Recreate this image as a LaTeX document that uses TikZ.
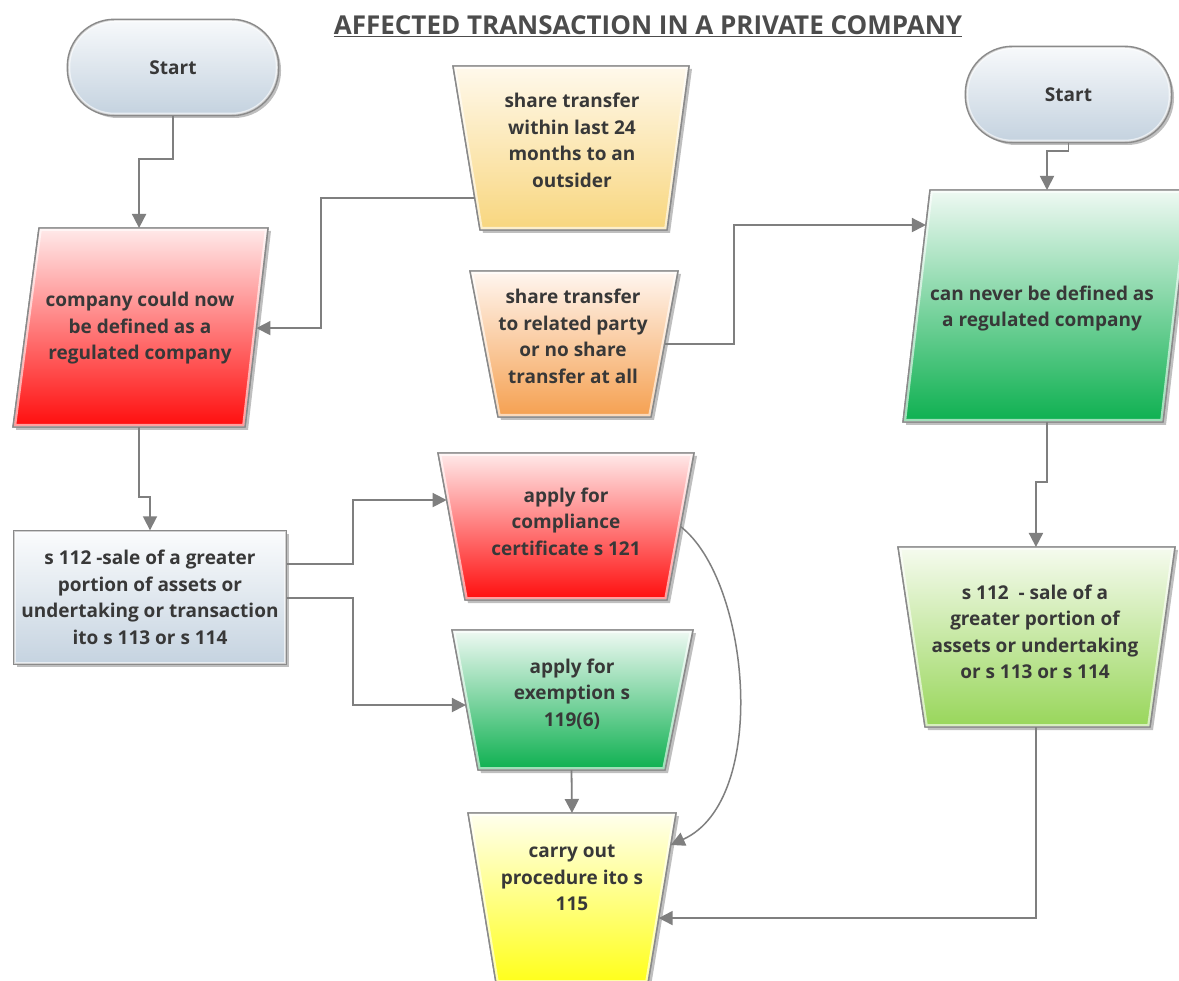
\documentclass[tikz,border=0pt]{standalone}
\usepackage{fontspec}
\setmainfont{Open Sans}
\usetikzlibrary{calc,shadows,arrows.meta}
\definecolor{linegray}{HTML}{7F7F7F}
\definecolor{bordergray}{HTML}{8A8A8A}
\definecolor{textgray}{HTML}{383838}
\definecolor{startTop}{HTML}{F7F9FB}
\definecolor{startBot}{HTML}{C4D2DF}
\definecolor{redTop}{HTML}{FFEAEA}
\definecolor{redBot}{HTML}{FF0D0D}
\definecolor{amberTop}{HTML}{FFF9EC}
\definecolor{amberBot}{HTML}{F8D67E}
\definecolor{orangeTop}{HTML}{FFF6F0}
\definecolor{orangeBot}{HTML}{F5A050}
\definecolor{greenTop}{HTML}{EFF9F3}
\definecolor{greenBot}{HTML}{0DB050}
\definecolor{lgreenTop}{HTML}{F6FBEF}
\definecolor{lgreenBot}{HTML}{98D65A}
\definecolor{boxTop}{HTML}{FBFCFD}
\definecolor{boxBot}{HTML}{C5D3E0}
\definecolor{yellowTop}{HTML}{FFFFEE}
\definecolor{yellowBot}{HTML}{FFFF1A}
\newcommand\nodefont{\fontsize{19}{26.5}\selectfont\bfseries}
% slanted shape from corner coordinates #1tl,#1tr,#1br,#1bl
\newcommand\slantshape[3]{%
  \path[base, top color=#2, bottom color=#3] (#1tl) -- (#1tr) -- (#1br) -- (#1bl) -- cycle;
  \begin{scope}
    \clip (#1tl) -- (#1tr) -- (#1br) -- (#1bl) -- cycle;
    \draw[glow] (#1tl) -- (#1tr) -- (#1br) -- (#1bl) -- cycle;
  \end{scope}
  \draw[edge] (#1tl) -- (#1tr) -- (#1br) -- (#1bl) -- cycle;
}
\newcommand\nodeglow[2]{%
  \begin{scope}
    \clip[rounded corners=#2] (#1.north west) rectangle (#1.south east);
    \draw[glow, rounded corners=#2] (#1.north west) rectangle (#1.south east);
  \end{scope}
  \draw[edge, rounded corners=#2] (#1.north west) rectangle (#1.south east);
}
\begin{document}
\begin{tikzpicture}[x=1pt,y=-1pt,
  conn/.style={draw=linegray, line width=1.8pt, -{Triangle[length=14pt,width=14pt]}},
  edge/.style={draw=bordergray, line width=1.4pt},
  glow/.style={draw=white, line width=6pt, opacity=0.6},
  base/.style={edge,
    drop shadow={shadow xshift=3pt,shadow yshift=-3pt,opacity=0.5}},
  txt/.style={text=textgray, align=center, inner sep=0pt, font=\nodefont},
  stadium/.style={base, txt, rectangle, rounded corners=47pt, minimum height=95pt, top color=startTop, bottom color=startBot},
]
\useasboundingbox (0,0) rectangle (1179,981);
\fill[white] (0,0) rectangle (1179,981);

\node[text=textgray!90, font=\fontsize{26}{30}\selectfont\bfseries] (title) at (648,26) {\underline{AFFECTED TRANSACTION IN A PRIVATE COMPANY}};

% corner coordinates of the slanted shapes
\coordinate (t1tl) at (453,66);  \coordinate (t1tr) at (689,66);  \coordinate (t1br) at (667,230); \coordinate (t1bl) at (480,230);
\coordinate (t2tl) at (470,271); \coordinate (t2tr) at (678,271); \coordinate (t2br) at (651,417); \coordinate (t2bl) at (498,417);
\coordinate (t3tl) at (438,453); \coordinate (t3tr) at (694,453); \coordinate (t3br) at (667,600); \coordinate (t3bl) at (465,600);
\coordinate (t4tl) at (452,630); \coordinate (t4tr) at (693,630); \coordinate (t4br) at (665,770); \coordinate (t4bl) at (478,770);
\coordinate (t5tl) at (468,813); \coordinate (t5tr) at (676,813); \coordinate (t5br) at (648,983); \coordinate (t5bl) at (496,983);
\coordinate (t6tl) at (898,547); \coordinate (t6tr) at (1175,547); \coordinate (t6br) at (1150,727); \coordinate (t6bl) at (925,727);
\coordinate (p1tl) at (39,228);  \coordinate (p1tr) at (268,228); \coordinate (p1br) at (245,427); \coordinate (p1bl) at (13,427);
\coordinate (p2tl) at (930,190); \coordinate (p2tr) at (1190,190); \coordinate (p2br) at (1163,422); \coordinate (p2bl) at (903,422);

% shapes
\node[stadium, minimum width=210pt] (s1) at (173,67.5) {Start};
\nodeglow{s1}{47pt}
\node[stadium, minimum width=205pt] (s2) at (1068.5,94.5) {Start};
\nodeglow{s2}{47pt}
\slantshape{p1}{redTop}{redBot}
\slantshape{p2}{greenTop}{greenBot}
\slantshape{t1}{amberTop}{amberBot}
\slantshape{t2}{orangeTop}{orangeBot}
\slantshape{t3}{redTop}{redBot}
\slantshape{t4}{greenTop}{greenBot}
\slantshape{t5}{yellowTop}{yellowBot}
\slantshape{t6}{lgreenTop}{lgreenBot}
\node[base, txt, rectangle, minimum width=272pt, minimum height=133pt, top color=boxTop, bottom color=boxBot] (box) at (150,597.5) {s 112 -sale of a greater\\portion of assets or\\undertaking or transaction\\ito s 113 or s 114};
\nodeglow{box}{0pt}

% texts
\node[txt] (p1) at (140,328.5) {company could now\\be defined as a\\regulated company};
\node[txt] (p2) at (1042,308.5) {can never be defined as\\a regulated company};
\node[txt] (t1) at (572,140.5) {share transfer\\within last 24\\months to an\\outsider};
\node[txt] (t2) at (573,336.5) {share transfer\\to related party\\or no share\\transfer at all};
\node[txt] (t3) at (566,521.5) {apply for\\compliance\\certificate s 121};
\node[txt] (t4) at (572,694) {apply for\\exemption s\\119(6)};
\node[txt] (t5) at (572,878) {carry out\\procedure ito s\\115};
\node[txt] (t6) at (1035,632) {s 112\ \ - sale of a\\greater portion of\\assets or undertaking\\or s 113 or s 114};

% connector end points on the shape borders
\coordinate (p1n) at ($(p1tl)!0.437!(p1tr)$);
\coordinate (p1s) at ($(p1bl)!0.543!(p1br)$);
\coordinate (p1e) at ($(p1tr)!0.503!(p1br)$);
\coordinate (p2n) at ($(p2tl)!0.45!(p2tr)$);
\coordinate (p2s) at ($(p2bl)!0.554!(p2br)$);
\coordinate (p2w) at ($(p2tl)!0.151!(p2bl)$);
\coordinate (t1w) at ($(t1tl)!0.805!(t1bl)$);
\coordinate (t2e) at ($(t2tr)!0.5!(t2br)$);
\coordinate (t3w) at ($(t3tl)!0.32!(t3bl)$);
\coordinate (t3e) at ($(t3tr)!0.5!(t3br)$);
\coordinate (t4w) at ($(t4tl)!0.536!(t4bl)$);
\coordinate (t4s) at ($(t4bl)!0.5!(t4br)$);
\coordinate (t5n) at ($(t5tl)!0.5!(t5tr)$);
\coordinate (t5e) at ($(t5tr)!0.618!(t5br)$);
\coordinate (t5c) at ($(t5tr)!0.188!(t5br)$);
\coordinate (t6n) at ($(t6tl)!0.498!(t6tr)$);
\coordinate (t6s) at ($(t6bl)!0.493!(t6br)$);

% connectors
\draw[conn] (s1.south) -- ++(0,43) -| (p1n);
\draw[conn] (t1w) -- (321,198) |- (p1e);
\draw[conn] (t2e) -- (734,344) |- (p2w);
\draw[conn] (s2.south) -- ++(0,8) -| (p2n);
\draw[conn] (p2s) -- ++(0,60) -| (t6n);
\draw[conn] (t6s) |- (t5e);
\draw[conn] (p1s) -- ++(0,70) -| (box.north);
\draw[conn] (box.east |- 0,564) -- (353,564) |- (t3w);
\draw[conn] (box.east |- 0,598) -- (353,598) |- (t4w);
\draw[conn] (t4s) -- (t5n);
\draw[conn, line width=1.5pt] (t3e) .. controls (750,580) and (770,800) .. (t5c);
\end{tikzpicture}
\end{document}
